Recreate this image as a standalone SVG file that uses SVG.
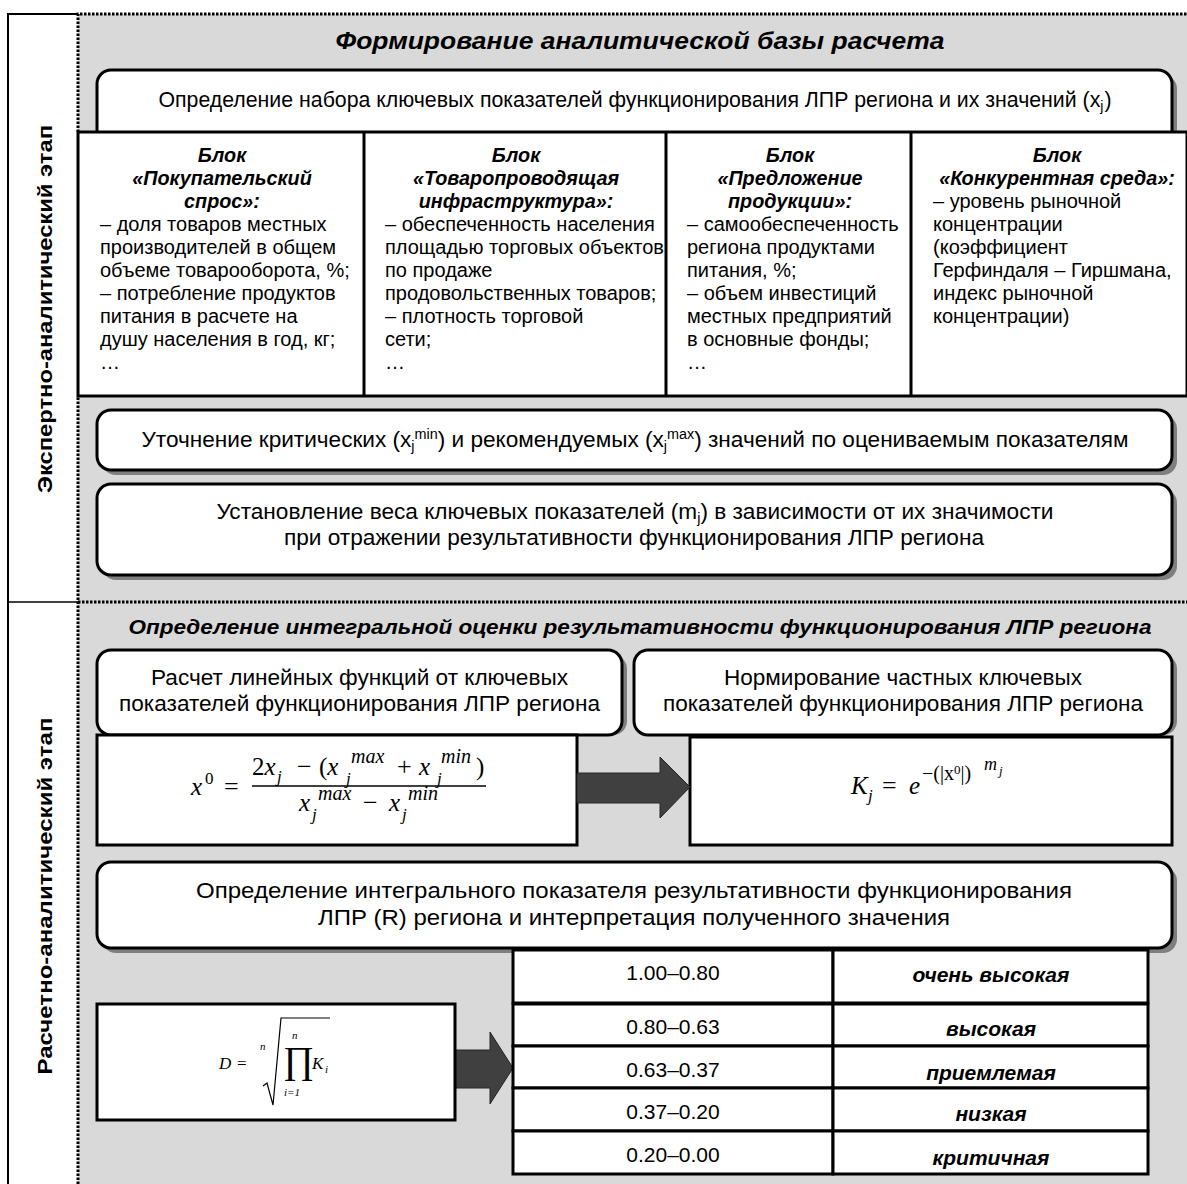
<svg xmlns="http://www.w3.org/2000/svg" width="1187" height="1184" viewBox="0 0 1187 1184">
<style>
.t{font-family:"Liberation Sans",Arial,sans-serif;fill:#000}
.bx{fill:#fff;stroke:#000;stroke-width:3}
.sh{fill:#7f7f7f}
.bt{font-size:22px;text-anchor:middle}
.blk{font-size:20px}
.bh{font-size:19.8px;font-weight:bold;font-style:italic;text-anchor:middle}
.m{font-family:"Liberation Serif","DejaVu Serif",serif;fill:#000}
.i{font-style:italic}
.dot{fill:none;stroke:#000;stroke-width:3;stroke-dasharray:2.5 1.5}
.arr{fill:#404040;stroke:#262626;stroke-width:1}
.cell{fill:#fff;stroke:#000;stroke-width:3}
.v1{font-size:21px;text-anchor:middle}
.v2{font-size:21px;font-weight:bold;font-style:italic;text-anchor:middle}
</style>
<rect x="0" y="0" width="1187" height="1184" fill="#fff"/>
<g id="stage-columns">
  <rect x="78" y="14" width="1109" height="1170" fill="#d9d9d9"/>
  <path d="M78,14 H8 V1184" fill="none" stroke="#000" stroke-width="2"/>
  <line x1="8" y1="602" x2="78" y2="602" stroke="#000" stroke-width="1.5"/>
  <path class="dot" d="M78,1184 V396 M78,132 V14 H1187"/>
  <line class="dot" x1="78" y1="602" x2="1187" y2="602"/>
  <text class="t" font-size="21" font-weight="bold" text-anchor="middle" transform="translate(52,309) rotate(-90)" textLength="368" lengthAdjust="spacingAndGlyphs">Экспертно-аналитический этап</text>
  <text class="t" font-size="21" font-weight="bold" text-anchor="middle" transform="translate(52,896) rotate(-90)" textLength="357" lengthAdjust="spacingAndGlyphs">Расчетно-аналитический этап</text>
</g>
<g id="title-1"><text class="t" x="640" y="49" font-size="23" font-weight="bold" font-style="italic" text-anchor="middle" textLength="609" lengthAdjust="spacingAndGlyphs">Формирование аналитической базы расчета</text></g>
<g id="box-indicators">
  <rect class="sh" x="102" y="75" width="1075" height="70" rx="14"/>
  <rect class="bx" x="97" y="70" width="1075" height="75" rx="14"/>
  <text class="t bt" x="635" y="107" style="font-size:21.3px">Определение набора ключевых показателей функционирования ЛПР региона и их значений (x<tspan font-size="14" dy="4">j</tspan><tspan dx="1" dy="-4">)</tspan></text>
</g>
<g id="blocks">
  <rect x="78" y="132" width="1109" height="264" fill="#fff" stroke="#000" stroke-width="3"/>
  <line x1="364" y1="132" x2="364" y2="396" stroke="#000" stroke-width="3"/>
  <line x1="666" y1="132" x2="666" y2="396" stroke="#000" stroke-width="3"/>
  <line x1="911" y1="132" x2="911" y2="396" stroke="#000" stroke-width="3"/>
</g>
<g id="block-demand">
  <text class="t bh" x="222" y="162">Блок</text>
  <text class="t bh" x="222" y="185">«Покупательский</text>
  <text class="t bh" x="222" y="208">спрос»:</text>
  <text class="t blk" x="100" y="231">– доля товаров местных</text>
  <text class="t blk" x="100" y="254">производителей в общем</text>
  <text class="t blk" x="100" y="277">объеме товарооборота, %;</text>
  <text class="t blk" x="100" y="300">– потребление продуктов</text>
  <text class="t blk" x="100" y="323">питания в расчете на</text>
  <text class="t blk" x="100" y="346">душу населения в год, кг;</text>
  <text class="t blk" x="100" y="369">…</text>
</g>
<g id="block-infrastructure">
  <text class="t bh" x="516" y="162">Блок</text>
  <text class="t bh" x="516" y="185">«Товаропроводящая</text>
  <text class="t bh" x="516" y="208">инфраструктура»:</text>
  <text class="t blk" x="385" y="231">– обеспеченность населения</text>
  <text class="t blk" x="385" y="254">площадью торговых объектов</text>
  <text class="t blk" x="385" y="277">по продаже</text>
  <text class="t blk" x="385" y="300">продовольственных товаров;</text>
  <text class="t blk" x="385" y="323">– плотность торговой</text>
  <text class="t blk" x="385" y="346">сети;</text>
  <text class="t blk" x="385" y="369">…</text>
</g>
<g id="block-supply">
  <text class="t bh" x="790" y="162">Блок</text>
  <text class="t bh" x="790" y="185">«Предложение</text>
  <text class="t bh" x="790" y="208">продукции»:</text>
  <text class="t blk" x="687" y="231">– самообеспеченность</text>
  <text class="t blk" x="687" y="254">региона продуктами</text>
  <text class="t blk" x="687" y="277">питания, %;</text>
  <text class="t blk" x="687" y="300">– объем инвестиций</text>
  <text class="t blk" x="687" y="323">местных предприятий</text>
  <text class="t blk" x="687" y="346">в основные фонды;</text>
  <text class="t blk" x="687" y="369">…</text>
</g>
<g id="block-competition">
  <text class="t bh" x="1057" y="162">Блок</text>
  <text class="t bh" x="1057" y="185">«Конкурентная среда»:</text>
  <text class="t blk" x="933" y="208">– уровень рыночной</text>
  <text class="t blk" x="933" y="231">концентрации</text>
  <text class="t blk" x="933" y="254">(коэффициент</text>
  <text class="t blk" x="933" y="277">Герфиндаля – Гиршмана,</text>
  <text class="t blk" x="933" y="300">индекс рыночной</text>
  <text class="t blk" x="933" y="323">концентрации)</text>
</g>
<g id="box-critical">
  <rect class="sh" x="102" y="415" width="1075" height="60" rx="14"/>
  <rect class="bx" x="97" y="410" width="1075" height="60" rx="14"/>
  <text class="t bt" x="635" y="447" textLength="987" lengthAdjust="spacingAndGlyphs">Уточнение критических (x<tspan font-size="14" dy="4">j</tspan><tspan font-size="14" dy="-12">min</tspan><tspan dy="8">) и рекомендуемых (x</tspan><tspan font-size="14" dy="4">j</tspan><tspan font-size="14" dy="-12">max</tspan><tspan dy="8">) значений по оцениваемым показателям</tspan></text>
</g>
<g id="box-weights">
  <rect class="sh" x="102" y="489" width="1075" height="91" rx="14"/>
  <rect class="bx" x="97" y="484" width="1075" height="91" rx="14"/>
  <text class="t bt" x="635" y="519" textLength="837" lengthAdjust="spacingAndGlyphs">Установление веса ключевых показателей (m<tspan font-size="14" dy="4">j</tspan><tspan dy="-4">) в зависимости от их значимости</tspan></text>
  <text class="t bt" x="634" y="545" textLength="700" lengthAdjust="spacingAndGlyphs">при отражении результативности функционирования ЛПР региона</text>
</g>
<g id="title-2"><text class="t" x="640" y="634" font-size="20" font-weight="bold" font-style="italic" text-anchor="middle" textLength="1023" lengthAdjust="spacingAndGlyphs">Определение интегральной оценки результативности функционирования ЛПР региона</text></g>
<g id="box-linear">
  <rect class="sh" x="102" y="655" width="525" height="80" rx="14"/>
  <rect class="bx" x="97" y="650" width="525" height="85" rx="14"/>
  <text class="t bt" x="359.5" y="685" textLength="417" lengthAdjust="spacingAndGlyphs">Расчет линейных функций от ключевых</text>
  <text class="t bt" x="359.5" y="711" textLength="481" lengthAdjust="spacingAndGlyphs">показателей функционирования ЛПР региона</text>
</g>
<g id="box-norm">
  <rect class="sh" x="639" y="655" width="538" height="80" rx="14"/>
  <rect class="bx" x="634" y="650" width="538" height="85" rx="14"/>
  <text class="t bt" x="903" y="685" textLength="358" lengthAdjust="spacingAndGlyphs">Нормирование частных ключевых</text>
  <text class="t bt" x="903" y="711" textLength="480" lengthAdjust="spacingAndGlyphs">показателей функционирования ЛПР региона</text>
</g>
<g id="formula-x0">
  <rect class="bx" x="97" y="735" width="480" height="110"/>
  <text class="m" font-size="25"><tspan class="i" x="191" y="795">x</tspan><tspan x="205" y="784" font-size="17">0</tspan><tspan x="224" y="795" font-size="26">=</tspan></text>
  <text class="m" font-size="25"><tspan x="252" y="775">2</tspan><tspan class="i">x</tspan><tspan class="i" x="277" y="782" font-size="17">j</tspan><tspan x="297" y="775" font-size="26">−</tspan><tspan x="319" y="775">(</tspan><tspan class="i">x</tspan><tspan class="i" x="346" y="784" font-size="17">j</tspan><tspan class="i" x="351" y="763" font-size="20">max</tspan><tspan x="397" y="775" font-size="26">+</tspan><tspan class="i" x="419" y="775">x</tspan><tspan class="i" x="437" y="784" font-size="17">j</tspan><tspan class="i" x="441" y="763" font-size="20">min</tspan><tspan x="476" y="775">)</tspan></text>
  <line x1="252" y1="786" x2="486" y2="786" stroke="#000" stroke-width="1.4"/>
  <text class="m" font-size="25"><tspan class="i" x="299" y="811">x</tspan><tspan class="i" x="312" y="820" font-size="17">j</tspan><tspan class="i" x="318" y="800" font-size="20">max</tspan><tspan x="363" y="811" font-size="26">−</tspan><tspan class="i" x="389" y="811">x</tspan><tspan class="i" x="402" y="820" font-size="17">j</tspan><tspan class="i" x="408" y="800" font-size="20">min</tspan></text>
</g>
<g id="formula-kj">
  <rect class="bx" x="690" y="737" width="482" height="108"/>
  <text class="m" font-size="25"><tspan class="i" x="851" y="794">K</tspan><tspan class="i" x="868" y="801" font-size="17">j</tspan><tspan x="882" y="794" font-size="26">=</tspan><tspan class="i" x="909" y="794">e</tspan><tspan x="922" y="780" font-size="20">−(|x</tspan><tspan font-size="13" dy="-6">0</tspan><tspan font-size="20" dy="6">|)</tspan><tspan class="i" x="984" y="770" font-size="18">m</tspan><tspan class="i" x="999" y="775" font-size="13">j</tspan></text>
</g>
<g id="connectors">
  <polygon class="arr" points="577,773 660,773 660,757 690,787 660,818 660,803 577,803"/>
  <polygon class="arr" points="455,1050 490,1050 490,1032 513,1068 490,1104 490,1088 455,1088"/>
</g>
<g id="box-integral">
  <rect class="sh" x="102" y="867" width="1075" height="86" rx="14"/>
  <rect class="bx" x="97" y="862" width="1075" height="86" rx="14"/>
  <text class="t bt" x="634" y="898" style="font-size:22.5px" textLength="876" lengthAdjust="spacingAndGlyphs">Определение интегрального показателя результативности функционирования</text>
  <text class="t bt" x="634" y="925" style="font-size:22.5px" textLength="632" lengthAdjust="spacingAndGlyphs">ЛПР (R) региона и интерпретация полученного значения</text>
</g>
<g id="formula-d">
  <rect class="bx" x="97" y="1004" width="358" height="116"/>
  <path d="M263,1086 L267,1083 L273,1105 L281,1018 L330,1018" fill="none" stroke="#000" stroke-width="1.2"/>
  <text class="m" font-size="17"><tspan class="i" x="219" y="1069">D</tspan><tspan x="237" y="1069">=</tspan><tspan class="i" x="260" y="1050" font-size="11">n</tspan><tspan x="283" y="1073" font-size="38">∏</tspan><tspan class="i" x="292" y="1039" font-size="11">n</tspan><tspan class="i" x="284" y="1096" font-size="11">i=1</tspan><tspan class="i" x="312" y="1069">K</tspan><tspan class="i" x="325" y="1073" font-size="11">i</tspan></text>
</g>
<g id="scale-table">
  <rect class="cell" x="513" y="950" width="320" height="53"/>
  <rect class="cell" x="833" y="950" width="315" height="53"/>
  <rect class="cell" x="513" y="1004" width="320" height="42"/>
  <rect class="cell" x="833" y="1004" width="315" height="42"/>
  <rect class="cell" x="513" y="1046" width="320" height="42"/>
  <rect class="cell" x="833" y="1046" width="315" height="42"/>
  <rect class="cell" x="513" y="1088" width="320" height="43"/>
  <rect class="cell" x="833" y="1088" width="315" height="43"/>
  <rect class="cell" x="513" y="1131" width="320" height="43"/>
  <rect class="cell" x="833" y="1131" width="315" height="43"/>
  <text class="t v1" x="673" y="980">1.00–0.80</text>
  <text class="t v1" x="673" y="1034">0.80–0.63</text>
  <text class="t v1" x="673" y="1077">0.63–0.37</text>
  <text class="t v1" x="673" y="1119">0.37–0.20</text>
  <text class="t v1" x="673" y="1162">0.20–0.00</text>
  <text class="t v2" x="991" y="982">очень высокая</text>
  <text class="t v2" x="991" y="1036">высокая</text>
  <text class="t v2" x="991" y="1080">приемлемая</text>
  <text class="t v2" x="991" y="1121">низкая</text>
  <text class="t v2" x="991" y="1165">критичная</text>
</g>
</svg>
